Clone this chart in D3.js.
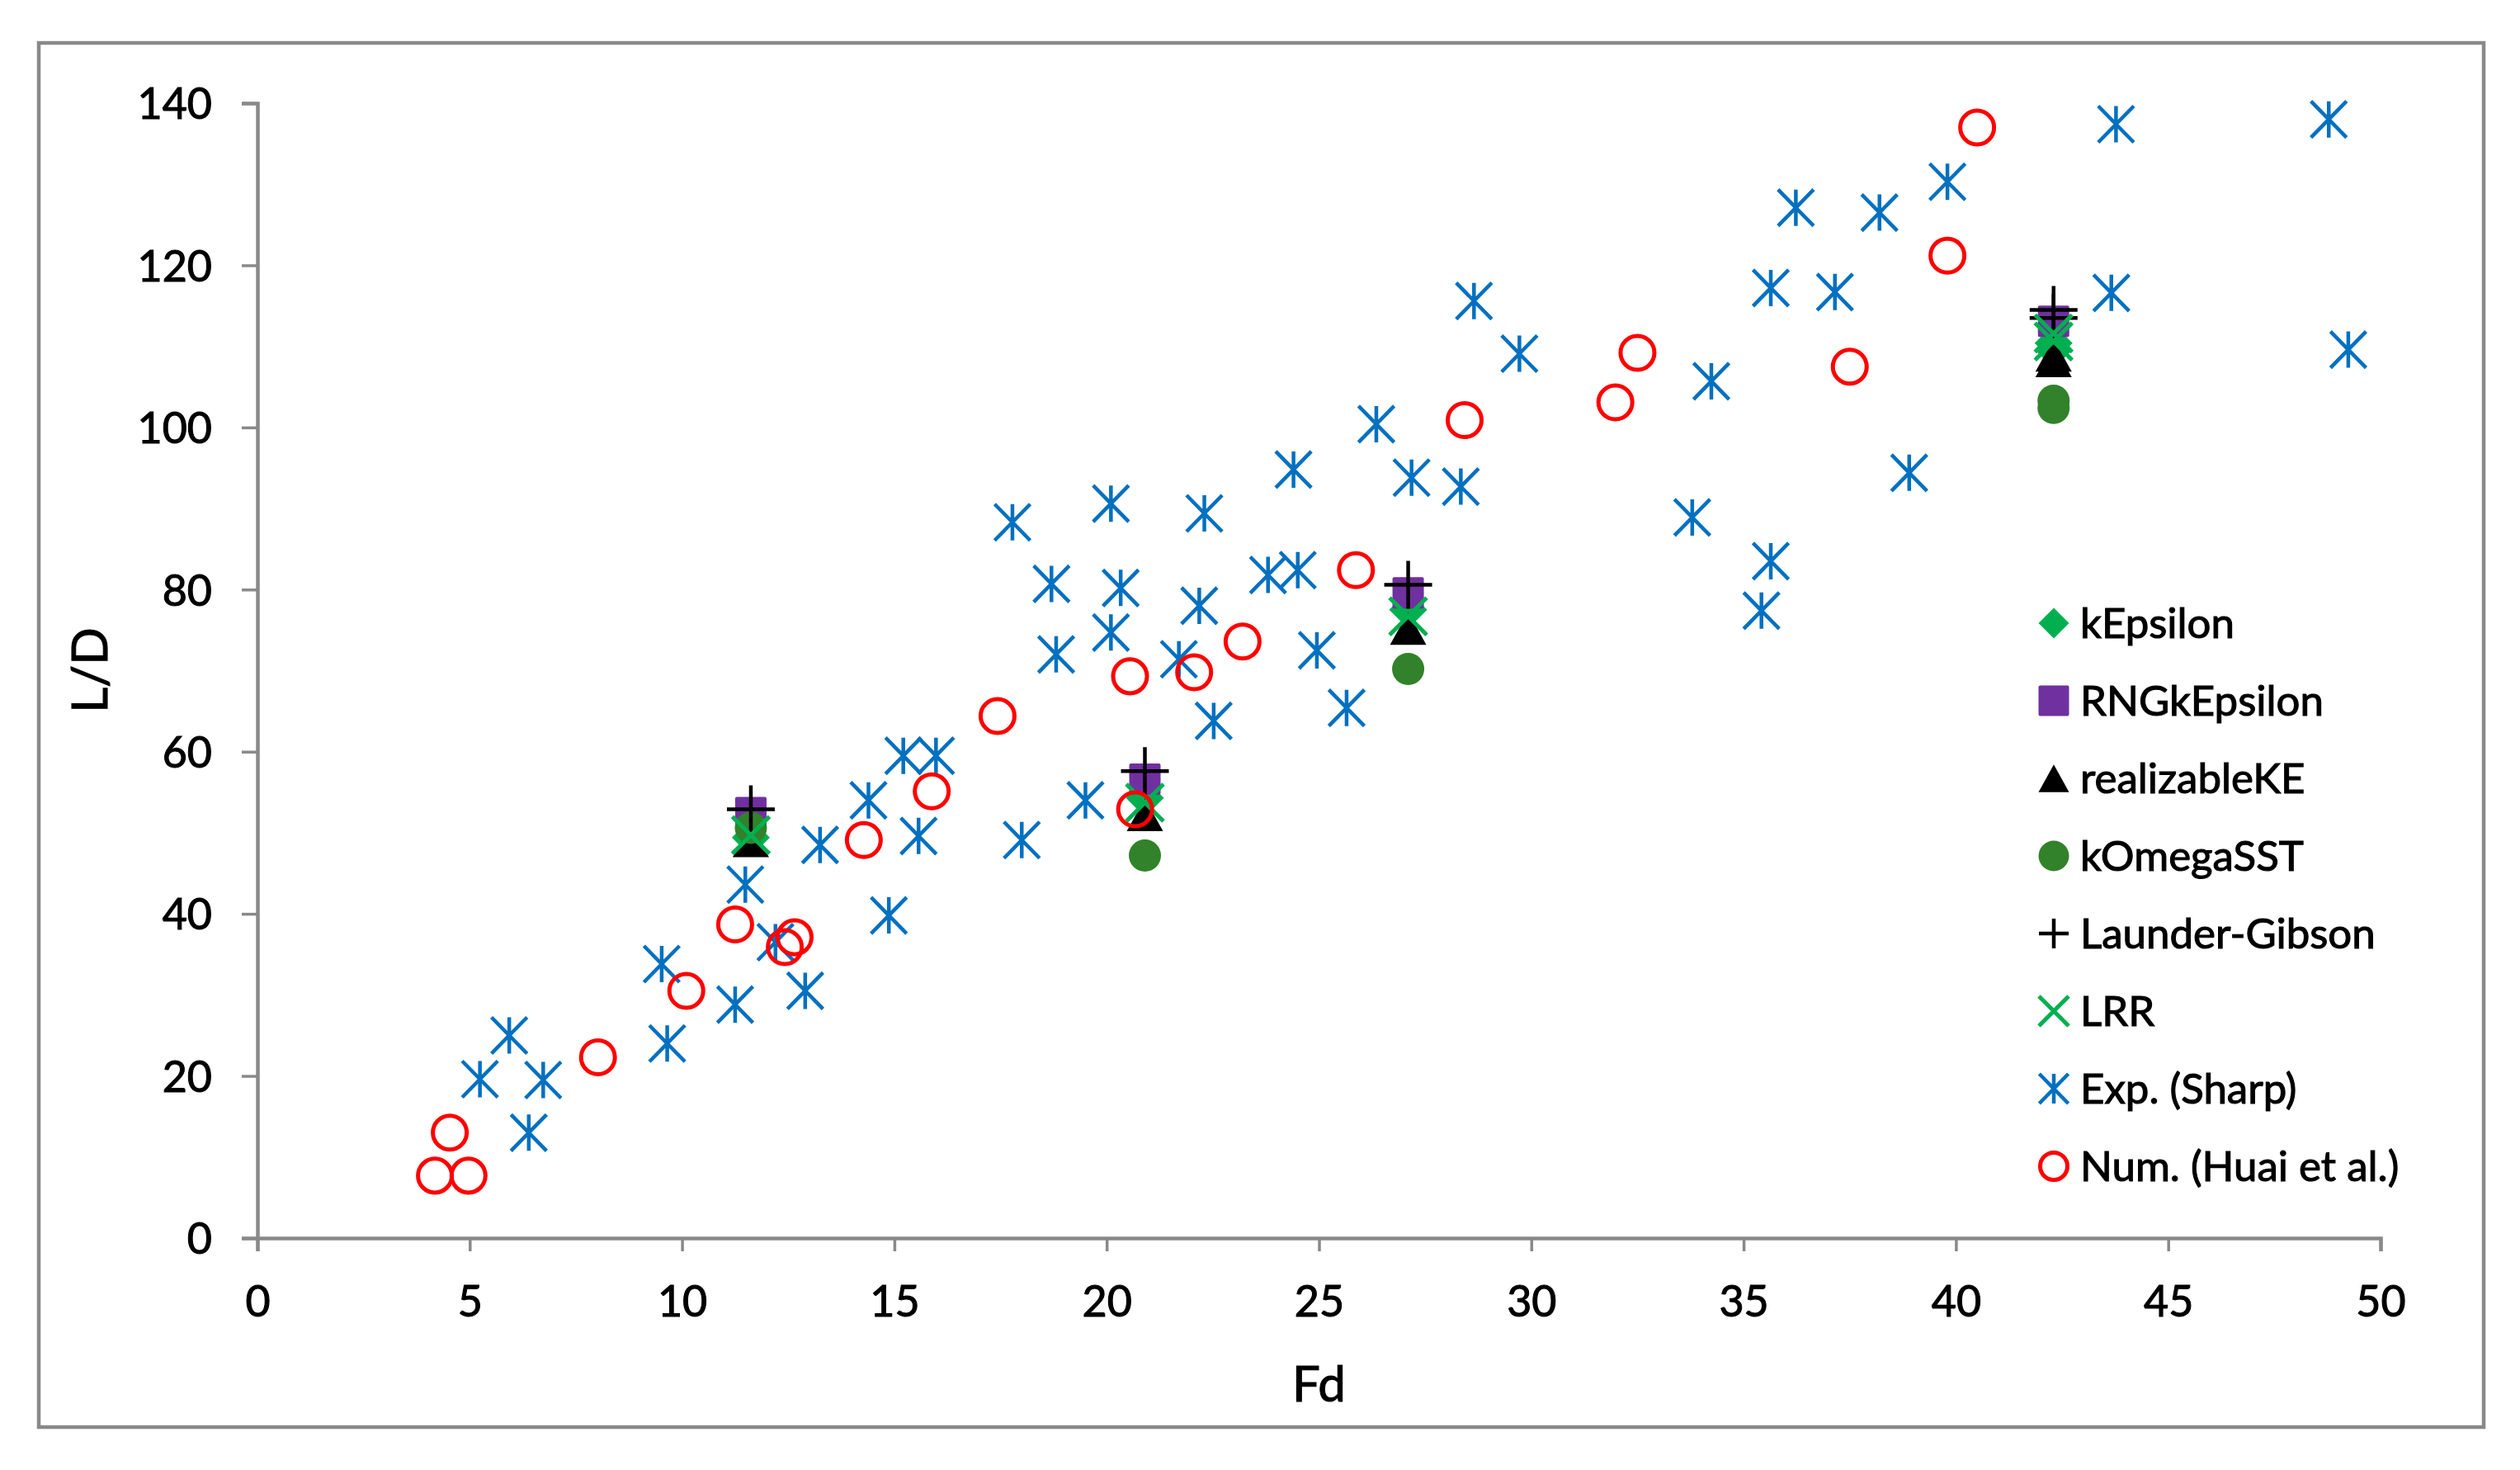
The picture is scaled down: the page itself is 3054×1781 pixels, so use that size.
<!DOCTYPE html>
<html>
<head>
<meta charset="utf-8">
<script src="https://cdn.jsdelivr.net/npm/d3@7"></script>
<style>
  body { margin: 0; background: #fff; }
  text { font-family: Lato, "Open Sans", sans-serif; fill: #000; stroke: #000; stroke-width: 1.1px; }
</style>
</head>
<body>
<div id="chart"></div>
<script>
// the data
var xTicks = [0, 5, 10, 15, 20, 25, 30, 35, 40, 45, 50];
var yTicks = [0, 20, 40, 60, 80, 100, 120, 140];

var kEpsilonFd = [11.62, 20.9, 27.1, 42.3, 42.3];
var kEpsilonLD = [49.4, 54.3, 77.5, 110.4, 109.6];

var rngFd = [11.62, 20.9, 27.1, 42.3];
var rngLD = [52.5, 56.6, 79.6, 113.1];

var realizableFd = [11.62, 20.9, 27.1, 42.3, 42.3];
var realizableLD = [49.0, 52.2, 75.2, 108.2, 108.9];

var kOmegaFd = [11.62, 20.9, 27.1, 42.3, 42.3];
var kOmegaLD = [50.6, 47.2, 70.2, 103.3, 102.4];

var launderFd = [11.62, 20.9, 27.1, 42.3, 42.3];
var launderLD = [52.9, 57.6, 80.6, 114.5, 113.5];

var lrrFd = [11.62, 20.9, 27.1, 42.3, 42.3];
var lrrLD = [49.7, 53.7, 76.7, 111.6, 110.6];

var expFd = [5.24, 5.93, 6.73, 6.39, 9.52, 9.65, 11.25, 11.49, 12.2, 12.9,
             13.25, 14.39, 14.87, 15.21, 15.57, 15.98, 17.78, 18.0, 18.7, 18.81,
             19.5, 20.1, 20.1, 20.33, 21.7, 22.18, 22.3, 22.52, 23.8, 24.5,
             24.4, 24.95, 25.65, 26.35, 27.18, 28.34, 28.65, 29.72, 33.79, 34.24,
             35.42, 35.64, 35.64, 36.23, 37.15, 38.2, 38.9, 39.8, 43.77, 43.66,
             48.78, 49.24];
var expLD = [19.6, 25.0, 19.5, 13.0, 33.8, 24.0, 28.8, 43.6, 36.5, 30.5,
             48.5, 54.0, 39.8, 59.5, 49.6, 59.5, 88.3, 49.1, 80.7, 72.0,
             54.0, 90.6, 74.7, 80.2, 71.4, 78.0, 89.4, 63.8, 81.8, 82.4,
             94.8, 72.5, 65.4, 100.4, 93.8, 92.7, 115.6, 109.1, 88.9, 105.7,
             77.4, 83.5, 117.2, 127.1, 116.7, 126.5, 94.4, 130.3, 137.4, 116.6,
             138.0, 109.6];

var numFd = [4.18, 4.53, 4.97, 8.02, 10.1, 11.25, 12.42, 12.65, 14.28, 15.88,
             17.43, 20.55, 20.67, 22.06, 23.2, 25.87, 28.43, 31.98, 32.5, 37.5,
             39.8, 40.5];
var numLD = [7.7, 13.0, 7.7, 22.3, 30.5, 38.7, 35.9, 37.1, 49.1, 55.1,
             64.4, 69.3, 52.9, 69.8, 73.6, 82.4, 100.9, 103.1, 109.2, 107.5,
             121.2, 137.0];

var seriesNames = ["kEpsilon", "RNGkEpsilon", "realizableKE", "kOmegaSST",
                   "Launder-Gibson", "LRR", "Exp. (Sharp)", "Num. (Huai et al.)"];

// how each series is drawn (kept apart from the values)
var seriesStyle = [
  {kind: "diamond",  color: "#00b050", size: 46, legendSize: 37, fd: kEpsilonFd, ld: kEpsilonLD},
  {kind: "square",   color: "#7030a0", size: 38, legendSize: 37, fd: rngFd, ld: rngLD},
  {kind: "triangle", color: "#000000", size: 44, legendSize: 37, fd: realizableFd, ld: realizableLD},
  {kind: "dot",      color: "#31822a", size: 39, legendSize: 37, fd: kOmegaFd, ld: kOmegaLD},
  {kind: "plus",     color: "#000000", size: 58, legendSize: 36, fd: launderFd, ld: launderLD},
  {kind: "cross",    color: "#00b050", size: 45, legendSize: 36, fd: lrrFd, ld: lrrLD},
  {kind: "star",     color: "#0070c0", size: 44, legendSize: 36, fd: expFd, ld: expLD},
  {kind: "ring",     color: "#ff0000", size: 46, legendSize: 38, fd: numFd, ld: numLD}
];

// set the dimensions and margins of the graph
var W = 3054, H = 1781;
var margin = {top: 125, left: 312},
    width = 2885 - 312,
    height = 1500 - 125;
var gray = "#898989";

// set the ranges
var x = d3.scaleLinear().domain([0, 50]).range([0, width]);
var y = d3.scaleLinear().domain([0, 140]).range([height, 0]);

var svg = d3.select("#chart").append("svg")
  .attr("width", W)
  .attr("height", H);

svg.append("rect")
  .attr("width", W).attr("height", H)
  .attr("fill", "#fff");

// outer frame of the chart
svg.append("rect")
  .attr("x", 47).attr("y", 52)
  .attr("width", 3010 - 47).attr("height", 1729 - 52)
  .attr("fill", "none")
  .attr("stroke", gray)
  .attr("stroke-width", 4.5);

var g = svg.append("g")
  .attr("transform", "translate(" + margin.left + "," + margin.top + ")");

// marker shapes, s = full size in px
function markerPath(kind, s) {
  var h = s / 2;
  if (kind === "diamond") return "M0," + (-h) + "L" + h + ",0L0," + h + "L" + (-h) + ",0Z";
  if (kind === "square") { var q = h - 2; return "M" + (-q) + "," + (-q) + "H" + q + "V" + q + "H" + (-q) + "Z"; }
  if (kind === "triangle") { var th = s * 0.45; return "M0," + (-th) + "L" + h + "," + th + "L" + (-h) + "," + th + "Z"; }
  if (kind === "dot") return d3.symbol(d3.symbolCircle, Math.PI * h * h)();
  if (kind === "ring") { var r = h - 2.5; return d3.symbol(d3.symbolCircle, Math.PI * r * r)(); }
  if (kind === "plus") return "M" + (-h) + ",0H" + h + "M0," + (-h) + "V" + h;
  if (kind === "cross") return "M" + (-h) + "," + (-h) + "L" + h + "," + h + "M" + (-h) + "," + h + "L" + h + "," + (-h);
  if (kind === "star") {
    var a = h * 0.98;
    return "M" + (-a) + "," + (-h) + "L" + a + "," + h + "M" + (-a) + "," + h + "L" + a + "," + (-h) + "M0," + (-h) + "V" + h;
  }
}

function styleMarker(sel, st) {
  var filled = ["diamond", "square", "triangle", "dot"].indexOf(st.kind) >= 0;
  sel.attr("fill", filled ? st.color : "none")
    .attr("stroke", st.kind === "square" ? st.color : (filled ? "none" : st.color))
    .attr("stroke-width", st.kind === "square" ? 4 : (st.kind === "cross" ? 5 : (st.kind === "ring" ? 5 : 4.5)))
    .attr("stroke-linejoin", "round");
}

// Add the X Axis
var gx = g.append("g")
  .attr("transform", "translate(0," + height + ")")
  .call(d3.axisBottom(x).tickValues(xTicks).tickSize(16).tickSizeOuter(16));

// Add the Y Axis
var gy = g.append("g")
  .call(d3.axisLeft(y).tickValues(yTicks).tickSize(19).tickSizeOuter(19));

[gx, gy].forEach(function(ax) {
  ax.select(".domain").attr("stroke", gray).attr("stroke-width", 4.5);
  ax.selectAll(".tick line").attr("stroke", gray).attr("stroke-width", 3.5);
  ax.selectAll(".tick text")
    .attr("fill", "#000")
    .style("font-size", "52px")
    .style("font-family", "Lato, 'Open Sans', sans-serif");
});
gx.selectAll(".tick text").attr("y", 95).attr("dy", 0);
gy.selectAll(".tick text").attr("x", -55).attr("dy", "0.36em");

// axis titles
svg.append("text")
  .attr("x", margin.left + width / 2)
  .attr("y", 1698)
  .style("text-anchor", "middle")
  .style("font-size", "60px")
  .text("Fd");

svg.append("text")
  .attr("transform", "translate(130,812) rotate(-90)")
  .style("text-anchor", "middle")
  .style("font-size", "60px")
  .text("L/D");

// the points, one series after the other
seriesStyle.forEach(function(st) {
  var pts = st.fd.map(function(d, i) { return {fd: d, ld: st.ld[i]}; });
  g.append("g").selectAll("path")
    .data(pts)
    .enter().append("path")
    .attr("transform", function(d) { return "translate(" + x(d.fd) + "," + y(d.ld) + ")"; })
    .attr("d", markerPath(st.kind, st.size))
    .call(styleMarker, st);
});

// legend
var legend = svg.append("g").attr("transform", "translate(2489,755)");
seriesNames.forEach(function(name, i) {
  var st = seriesStyle[i];
  var row = legend.append("g").attr("transform", "translate(0," + (i * 94) + ")");
  row.append("path")
    .attr("d", markerPath(st.kind, st.legendSize))
    .call(styleMarker, st);
  row.append("text")
    .attr("x", 32)
    .attr("dy", "0.36em")
    .style("font-size", "51px")
    .text(name);
});
</script>
</body>
</html>
